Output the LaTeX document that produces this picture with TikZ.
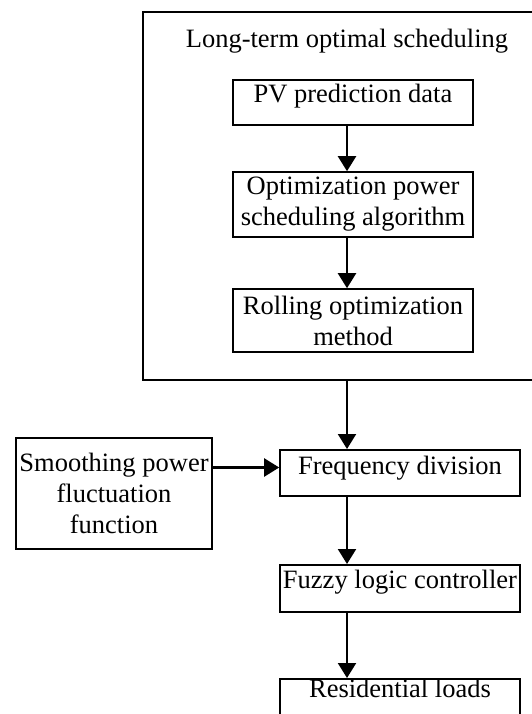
\documentclass[tikz,border=0pt]{standalone}
\usepackage{fontspec}
\setmainfont{Liberation Serif}
\usetikzlibrary{arrows.meta}
\begin{document}
\begin{tikzpicture}[x=1pt,y=-1pt,
  font=\fontsize{26.5}{31}\selectfont,
  box/.style={draw, line width=1.6pt, inner xsep=0pt, inner ysep=0pt, minimum width=240pt, align=center},
  onebox/.style={box, anchor=north},
  arr/.style={line width=2.2pt, -{Triangle[length=15pt,width=18pt]}},
  frame/.style={draw, line width=2.2pt, inner sep=0pt}
]
\useasboundingbox (0,0) rectangle (532,714);
\clip (0,0) rectangle (532,714);
\coordinate (ax) at (347,0);
\coordinate (ay) at (0,467.5);
% outer frame
\node[frame, minimum width=393pt, minimum height=368pt] (outer) at (339.5,196) {};
\node[anchor=base, inner sep=0pt] (title) at (347,48) {Long-term optimal scheduling};
% inner boxes
\node[onebox, text height=23pt, text depth=22pt] (pv) at (353,79) {PV prediction data};
\node[box, minimum height=65pt] (opt) at (353,204.5) {Optimization power\\scheduling algorithm};
\node[box, minimum height=63pt] (roll) at (353,320.5) {Rolling optimization\\method};
% lower boxes
\node[onebox, text height=25pt, text depth=21pt] (fq) at (400,449) {Frequency division};
\node[box, minimum width=196pt, minimum height=111pt] (sm) at (114,493.5) {Smoothing power\\fluctuation\\function};
\node[onebox, text height=24pt, text depth=23pt] (fz) at (400,564) {Fuzzy logic controller};
\node[onebox, text height=19pt, text depth=32pt] (rs) at (400,678) {Residential loads};
% arrows
\draw[arr] (pv.south -| ax) -- (opt.north -| ax);
\draw[arr] (opt.south -| ax) -- (roll.north -| ax);
\draw[arr] (outer.south -| ax) -- (fq.north -| ax);
\draw[arr] (fq.south -| ax) -- (fz.north -| ax);
\draw[arr] (fz.south -| ax) -- (rs.north -| ax);
\draw[arr] (sm.east |- ay) -- (fq.west |- ay);
\end{tikzpicture}
\end{document}
